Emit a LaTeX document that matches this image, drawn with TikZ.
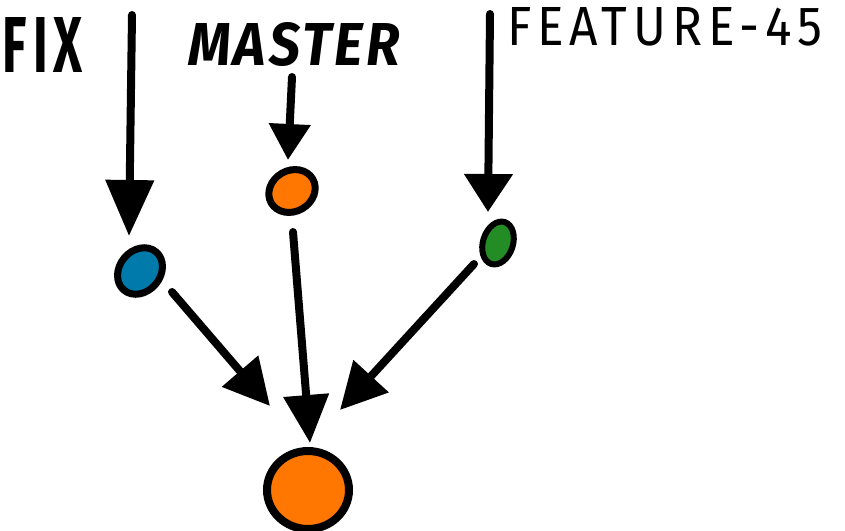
\documentclass[tikz,border=0pt]{standalone}
\usepackage{fontspec}
\setmainfont{Fira Sans}
\usetikzlibrary{arrows.meta,shapes.geometric}
\definecolor{cblue}{RGB}{0,122,170}
\definecolor{corange}{RGB}{255,119,0}
\definecolor{cgreen}{RGB}{36,140,36}
\tikzset{
  arr/.style 2 args={line width=8pt, line cap=round, -{Triangle[length=#1pt,width=#2pt]}},
  lbl/.style={inner sep=0pt, outer sep=0pt, anchor=north west},
  dot/.style={ellipse, draw=black, inner sep=0pt}
}
\begin{document}
\begin{tikzpicture}[x=1pt,y=-1pt]
\useasboundingbox[fill=white] (0,0) rectangle (845,530);
% labels
\node[lbl] (fix) at (3,17) {\resizebox{80pt}{55pt}{\addfontfeatures{LetterSpace=12}\bfseries FIX}};
\node[lbl] (master) at (188,22) {\resizebox{212pt}{43pt}{\addfontfeatures{LetterSpace=6}\bfseries\itshape MASTER}};
\node[lbl] (feat) at (507,7) {\resizebox{315pt}{38pt}{\addfontfeatures{LetterSpace=12}\mdseries FEATURE-45}};
% commits
\node[dot, fill=cblue, line width=7pt, minimum width=50pt, minimum height=41pt, rotate=50] (blue) at (140,271) {};
\node[dot, fill=corange, line width=7pt, minimum width=48pt, minimum height=41pt, rotate=30] (osmall) at (292,191) {};
\node[dot, fill=cgreen, line width=6pt, minimum width=44pt, minimum height=30pt, rotate=72] (green) at (498,243) {};
\node[dot, fill=corange, line width=8pt, minimum width=82pt, minimum height=78pt] (big) at (308,490) {};
% arrow ends
\coordinate (f1) at (132,15);  \coordinate (f2) at (129,236);
\coordinate (m1) at (292,77);  \coordinate (m2) at (288,160);
\coordinate (g1) at (490,14);  \coordinate (g2) at (488,212);
\coordinate (b1) at (172,292); \coordinate (b2) at (270,406);
\coordinate (o1) at (293,232); \coordinate (o2) at (310,443);
\coordinate (r1) at (474,264); \coordinate (r2) at (340,410);
% connectors
\draw[arr={56}{47}] (f1) -- (f2);
\draw[arr={36}{40}] (m1) -- (m2);
\draw[arr={38}{47}] (g1) -- (g2);
\draw[arr={46}{46}] (b1) -- (b2);
\draw[arr={48}{44}] (o1) -- (o2);
\draw[arr={46}{46}] (r1) -- (r2);
\end{tikzpicture}
\end{document}
